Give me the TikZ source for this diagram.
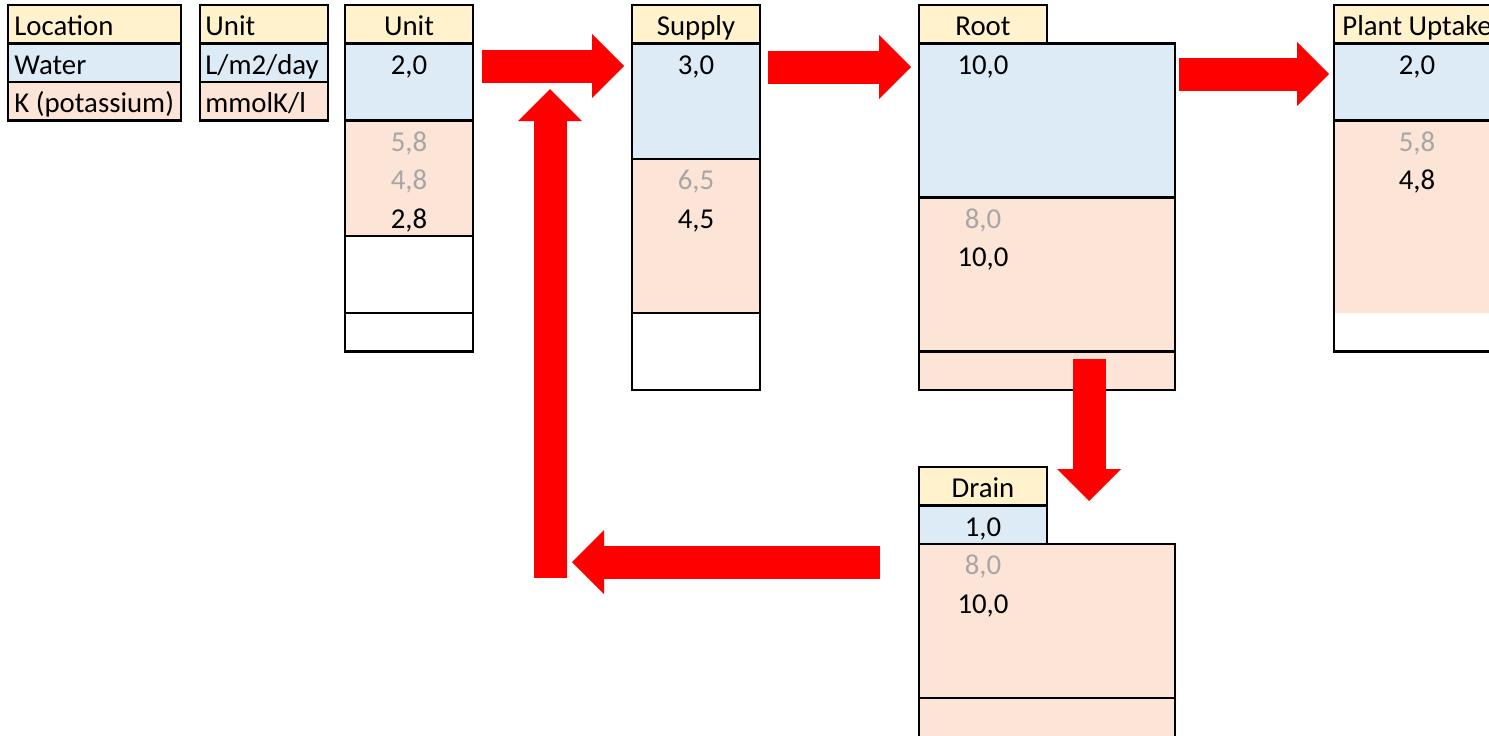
\documentclass[tikz,border=0pt]{standalone}
\usepackage{fontspec}
\setmainfont{Carlito}
\usetikzlibrary{arrows.meta}
\definecolor{hdr}{HTML}{FFF2CC}
\definecolor{wat}{HTML}{DDEBF7}
\definecolor{pot}{HTML}{FCE4D6}
\definecolor{dim}{HTML}{A6A6A6}
\definecolor{flow}{HTML}{FF0000}

\begin{document}
\begin{tikzpicture}[x=0.5pt,y=-0.5pt,
  cellline/.style={line width=1.3pt},
  txt/.style={anchor=base, inner sep=0pt, font=\fontsize{14.4}{17}\selectfont},
  ltxt/.style={txt, anchor=base west},
  faded/.style={txt, text=dim},
  flowarrow/.style={draw=flow, line width=16.5pt,
    -{Triangle[length=16pt,width=32pt,line width=0pt]}},
]
\useasboundingbox (0,0) rectangle (1489,735);
\clip (0,0) rectangle (1489,735);

% ---------- legend: location ----------
\fill[hdr] (8,5) rectangle (181,43.5);
\fill[wat] (8,43.5) rectangle (181,82);
\fill[pot] (8,82) rectangle (181,120.5);
\draw[cellline] (8,5) rectangle (181,120.5)
  (8,43.5) -- (181,43.5) (8,82) -- (181,82);
\node[ltxt] (lgloc) at (14,35.5) {Location};
\node[ltxt] (lgwat) at (14,74) {Water};
\node[ltxt] (lgpot) at (14,112.5) {K (potassium)};

% ---------- legend: units ----------
\fill[hdr] (200,5) rectangle (328,43.5);
\fill[wat] (200,43.5) rectangle (328,82);
\fill[pot] (200,82) rectangle (328,120.5);
\draw[cellline] (200,5) rectangle (328,120.5)
  (200,43.5) -- (328,43.5) (200,82) -- (328,82);
\node[ltxt] (lgunit) at (205,35.5) {Unit};
\node[ltxt] (lgwu) at (205,74) {L/m2/day};
\node[ltxt] (lgpu) at (205,112.5) {mmolK/l};

% ---------- unit column ----------
\fill[hdr] (345,5) rectangle (473,43.5);
\fill[wat] (345,43.5) rectangle (473,120.5);
\fill[pot] (345,120.5) rectangle (473,236);
\draw[cellline] (345,5) rectangle (473,351.5)
  (345,43.5) -- (473,43.5) (345,120.5) -- (473,120.5)
  (345,236) -- (473,236) (345,313) -- (473,313);
\node[txt] (unith) at (409,35.5) {Unit};
\node[txt] (unitw) at (409,74) {2,0};
\node[faded] (unitk1) at (409,151) {5,8};
\node[faded] (unitk2) at (409,189.5) {4,8};
\node[txt] (unitk3) at (409,228) {2,8};

% ---------- supply ----------
\fill[hdr] (632,5) rectangle (760,43.5);
\fill[wat] (632,43.5) rectangle (760,159);
\fill[pot] (632,159) rectangle (760,313);
\draw[cellline] (632,5) rectangle (760,390)
  (632,43.5) -- (760,43.5) (632,159) -- (760,159) (632,313) -- (760,313);
\node[txt] (suph) at (696,35.5) {Supply};
\node[txt] (supw) at (696,74) {3,0};
\node[faded] (supk1) at (696,189.5) {6,5};
\node[txt] (supk2) at (696,228) {4,5};

% ---------- root ----------
\fill[hdr] (919,5) rectangle (1047,43.5);
\draw[cellline] (919,5) rectangle (1047,43.5);
\fill[wat] (919,43.5) rectangle (1175,197.5);
\fill[pot] (919,197.5) rectangle (1175,390);
\draw[cellline] (919,43.5) rectangle (1175,390)
  (919,197.5) -- (1175,197.5) (919,351.5) -- (1175,351.5);
\node[txt] (rooth) at (983,35.5) {Root};
\node[txt] (rootw) at (983,74) {10,0};
\node[faded] (rootk1) at (983,228) {8,0};
\node[txt] (rootk2) at (983,266.5) {10,0};

% ---------- plant uptake ----------
\fill[hdr] (1334,5) rectangle (1500,43.5);
\fill[wat] (1334,43.5) rectangle (1500,120.5);
\fill[pot] (1334,120.5) rectangle (1500,313);
\draw[cellline] (1334,5) rectangle (1500,351.5)
  (1334,43.5) -- (1500,43.5) (1334,120.5) -- (1500,120.5);
\node[ltxt] (planth) at (1342,35.5) {Plant Uptake};
\node[txt] (plantw) at (1417,74) {2,0};
\node[faded] (plantk1) at (1417,151) {5,8};
\node[txt] (plantk2) at (1417,189.5) {4,8};

% ---------- drain ----------
\fill[hdr] (919,467) rectangle (1047,505.5);
\fill[wat] (919,505.5) rectangle (1047,544);
\draw[cellline] (919,467) rectangle (1047,544) (919,505.5) -- (1047,505.5);
\fill[pot] (919,544) rectangle (1175,745);
\draw[cellline] (919,745) -- (919,544) -- (1175,544) -- (1175,745)
  (919,698) -- (1175,698);
\node[txt] (drainh) at (983,497.5) {Drain};
\node[txt] (drainw) at (983,536) {1,0};
\node[faded] (draink1) at (983,574.5) {8,0};
\node[txt] (draink2) at (983,613) {10,0};

% ---------- flows ----------
\coordinate (unitout) at (482,66);
\coordinate (supin) at (624,66);
\coordinate (supout) at (768,67);
\coordinate (rootin) at (911,67);
\coordinate (rootout) at (1179,74);
\coordinate (plantin) at (1329,74);
\coordinate (rootdown) at (1089,359);
\coordinate (drainin) at (1089,501);
\coordinate (drainout) at (880,562);
\coordinate (returnbend) at (572,562);
\coordinate (returnfoot) at (550,578);
\coordinate (returntop) at (550,89);

\draw[flowarrow] (unitout) -- (supin);
\draw[flowarrow] (supout) -- (rootin);
\draw[flowarrow] (rootout) -- (plantin);
\draw[flowarrow] (rootdown) -- (drainin);
\draw[flowarrow] (drainout) -- (returnbend);
\draw[flowarrow] (returnfoot) -- (returntop);
\end{tikzpicture}
\end{document}
